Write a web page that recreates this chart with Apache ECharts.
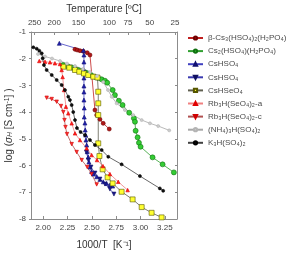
<!DOCTYPE html>
<html>
<head>
<meta charset="utf-8">
<script src="https://cdn.jsdelivr.net/npm/echarts@6/dist/echarts.min.js"></script>
<style>
  html, body { margin: 0; padding: 0; background: #fff; }
  #chart { width: 291px; height: 253px; }
</style>
</head>
<body>
<div id="chart"></div>
<script>
// 1000/T [K^-1] vs log(sigma)
var xTicks = [2.00, 2.25, 2.50, 2.75, 3.00, 3.25];
var tempTicks = [250, 200, 150, 100, 75, 50, 25];

var csHSO4HPO4 = [[2.327,-1.648],[2.350,-1.674],[2.378,-1.700],[2.412,-1.723],[2.453,-1.775],[2.481,-1.861],
  [2.532,-3.921],[2.550,-4.109],[2.583,-4.270],[2.617,-4.419],[2.679,-4.633]];
var cs2HSO4 = [[2.204,-2.236],[2.258,-2.300],[2.296,-2.330],[2.327,-2.386],[2.358,-2.423],[2.396,-2.461],
  [2.429,-2.509],[2.453,-2.547],[2.491,-2.610],[2.532,-2.674],[2.563,-2.715],[2.601,-2.772],[2.635,-2.824],
  [2.658,-2.899],[2.714,-3.172],[2.737,-3.360],[2.778,-3.573],[2.816,-3.734],[2.884,-4.022],[2.932,-4.232],
  [2.943,-4.360],[2.950,-4.697],[2.970,-4.944],[2.984,-5.146],[3.001,-5.296],[3.124,-5.693],[3.227,-5.955],[3.343,-6.255]];
var csHSO4up = [[2.166,-1.423],[2.414,-1.693],[2.419,-1.861],[2.419,-2.124],[2.419,-2.423],[2.419,-2.723],
  [2.419,-3.022],[2.419,-3.247],[2.419,-3.547],[2.422,-3.846],[2.422,-4.184],[2.429,-4.408],[2.432,-4.670],
  [2.437,-4.858],[2.440,-5.045],[2.447,-5.232],[2.453,-5.483],[2.463,-5.682],[2.470,-5.869],[2.481,-6.056],
  [2.498,-6.225],[2.515,-6.318],[2.550,-6.419],[2.583,-6.517],[2.617,-6.607],[2.652,-6.667],[2.686,-6.730],[2.714,-6.768]];
var csHSO4down = [[2.444,-5.494],[2.465,-5.794],[2.491,-6.056],[2.532,-6.281],[2.583,-6.506],[2.635,-6.693],
  [2.686,-6.880],[2.727,-7.067]];
var csHSeO4 = [[2.207,-2.300],[2.268,-2.337],[2.327,-2.423],[2.371,-2.487],[2.419,-2.554],[2.463,-2.610],
  [2.515,-2.674],[2.558,-2.704],[2.566,-3.236],[2.566,-3.670],[2.566,-4.109],[2.566,-5.168],[2.578,-5.644],
  [2.611,-6.142],[2.662,-6.442],[2.714,-6.667],[2.806,-6.981],[2.919,-7.266],[3.012,-7.554],[3.114,-7.768],[3.217,-7.940]];
var rbA = [[1.960,-2.086],[2.019,-2.112],[2.070,-2.135],[2.121,-2.172],[2.173,-2.199],[2.190,-2.423],
  [2.200,-2.685],[2.214,-3.172],[2.234,-3.798],[2.258,-4.045],[2.293,-4.419],[2.327,-4.794],[2.378,-5.045],
  [2.447,-5.356],[2.498,-5.607],[2.553,-5.794],[2.614,-6.019],[2.686,-6.318],[2.771,-6.607],[2.868,-6.918]];
var rbC = [[2.036,-3.461],[2.088,-3.509],[2.139,-3.610],[2.183,-3.771],[2.207,-3.996],[2.219,-4.296],
  [2.229,-4.558],[2.245,-4.820],[2.293,-5.195],[2.344,-5.494],[2.396,-5.794],[2.453,-6.056],[2.498,-6.318],[2.550,-6.704]];
var nh4 = [[1.947,-1.824],[2.019,-1.918],[2.091,-1.992],[2.173,-2.086],[2.245,-2.180],[2.327,-2.273],
  [2.409,-2.386],[2.481,-2.498],[2.553,-2.648],[2.617,-2.873],[2.666,-3.172],[2.704,-3.423],[2.755,-3.670],
  [2.840,-3.921],[2.925,-4.109],[3.012,-4.296],[3.097,-4.419],[3.182,-4.520],[3.295,-4.682]];
var k3 = [[1.899,-1.573],[1.934,-1.625],[1.960,-1.700],[1.985,-1.798],[1.995,-1.985],[2.008,-2.236],
  [2.036,-2.423],[2.088,-2.610],[2.139,-2.798],[2.190,-2.985],[2.224,-3.172],[2.258,-3.423],[2.275,-3.547],
  [2.293,-3.734],[2.309,-3.996],[2.327,-4.296],[2.347,-4.595],[2.385,-4.745],[2.429,-4.858],[2.481,-5.045],
  [2.532,-5.232],[2.601,-5.419],[2.669,-5.670],[2.806,-5.955],[2.994,-6.393],[3.199,-6.854],[3.233,-6.944]];

var font = 'Liberation Sans, Arial, sans-serif';
var axisGray = '#8c8c8c';

function ser(name, data, sym, size, fill, border, line) {
  return {
    name: name, type: 'line', data: data,
    symbol: sym, symbolSize: size,
    itemStyle: { color: fill, borderColor: border, borderWidth: 0.6 },
    lineStyle: { color: line, width: 0.8 },
    emphasis: { disabled: true },
    animation: false
  };
}

var tempPos = tempTicks.map(function (t) { return 1000 / (t + 273.15); });

var chart = echarts.init(document.getElementById('chart'));
chart.setOption({
  animation: false,
  grid: { left: 31, top: 32, width: 146, height: 187, outerBoundsMode: 'none', containLabel: false },
  textStyle: { fontFamily: font },
  legend: {
    orient: 'vertical', left: 182, top: 29,
    itemWidth: 15, itemHeight: 4, itemGap: 5.1,
    textStyle: { fontSize: 8, color: '#4a4a4a', fontFamily: font },
    data: ['β-Cs₃(HSO₄)₂(H₂PO₄)', 'Cs₂(HSO₄)(H₂PO₄)', 'CsHSO₄', 'CsHSO₄ ', 'CsHSeO₄',
      'Rb₃H(SeO₄)₂-a', 'Rb₃H(SeO₄)₂-c', '(NH₄)₃H(SO₄)₂', 'K₃H(SO₄)₂']
  },
  xAxis: [{
    type: 'value', min: 1.875, max: 3.375, position: 'bottom',
    name: '1000/T  [K⁻¹]', nameLocation: 'middle', nameGap: 21,
    nameTextStyle: { fontSize: 10, color: '#333' },
    axisLine: { lineStyle: { color: axisGray } },
    axisTick: { inside: true, length: 3, customValues: xTicks, lineStyle: { color: axisGray } },
    axisLabel: { customValues: xTicks, fontSize: 8, color: '#444', margin: 5,
      formatter: function (v) { return v.toFixed(2); } },
    splitLine: { show: false }
  }, {
    type: 'value', min: 1.875, max: 3.375, position: 'top',
    name: 'Temperature [ºC]', nameLocation: 'middle', nameGap: 17,
    nameTextStyle: { fontSize: 10, color: '#333' },
    axisLine: { lineStyle: { color: axisGray } },
    axisTick: { inside: true, length: 3, lineStyle: { color: axisGray }, customValues: tempPos },
    axisLabel: { fontSize: 8, color: '#444', margin: 5, customValues: tempPos,
      formatter: function (v) { return String(Math.round(1000 / v - 273.15)); } },
    splitLine: { show: false }
  }],
  yAxis: [{
    type: 'value', min: -8, max: -1, interval: 1, position: 'left',
    name: '{a|log (}{i|σ}{s|H}{a| [S cm}{p|-1}{a|] )}',
    nameLocation: 'middle', nameGap: 17, nameRotate: 90, nameMoveOverlap: false,
    nameTextStyle: {
      fontSize: 10, color: '#333',
      rich: {
        a: { fontSize: 10, color: '#333', fontFamily: font },
        i: { fontSize: 10, color: '#333', fontStyle: 'italic', fontFamily: font },
        s: { fontSize: 7, color: '#333', fontStyle: 'italic', verticalAlign: 'bottom', fontFamily: font },
        p: { fontSize: 7, color: '#333', verticalAlign: 'top', fontFamily: font }
      }
    },
    axisLine: { lineStyle: { color: axisGray } },
    axisTick: { inside: false, length: 2, lineStyle: { color: axisGray } },
    axisLabel: { fontSize: 8, color: '#444', margin: 5 },
    splitLine: { show: false }
  }, {
    type: 'value', min: -8, max: -1, interval: 1, position: 'right',
    axisLine: { show: true, lineStyle: { color: axisGray } },
    axisTick: { show: true, inside: true, length: 2, lineStyle: { color: axisGray } },
    axisLabel: { show: false },
    splitLine: { show: false }
  }],
  series: [
    ser('β-Cs₃(HSO₄)₂(H₂PO₄)', csHSO4HPO4, 'circle', 4, '#b01818', '#700000', '#c02020'),
    ser('Cs₂(HSO₄)(H₂PO₄)', cs2HSO4, 'circle', 5, '#33cc33', '#107010', '#30a030'),
    ser('CsHSO₄', csHSO4up, 'triangle', 4, '#2020b0', '#101070', '#4040c0'),
    ser('CsHSO₄ ', csHSO4down, 'path://M0,0 L10,0 L5,10 Z', 4, '#1a1a90', '#101060', '#3a3ab0'),
    ser('CsHSeO₄', csHSeO4, 'rect', 5, '#ffff30', '#555500', '#606050'),
    ser('Rb₃H(SeO₄)₂-a', rbA, 'triangle', 3.5, '#ff2020', '#e00000', '#f08080'),
    ser('Rb₃H(SeO₄)₂-c', rbC, 'path://M0,0 L10,0 L5,10 Z', 3.5, '#ff3030', '#d00000', '#b05050'),
    ser('(NH₄)₃H(SO₄)₂', nh4, 'circle', 3, '#cccccc', '#b4b4b4', '#a8a8a8'),
    ser('K₃H(SO₄)₂', k3, 'circle', 3, '#111', '#000', '#404040')
  ]
});
</script>
</body>
</html>
